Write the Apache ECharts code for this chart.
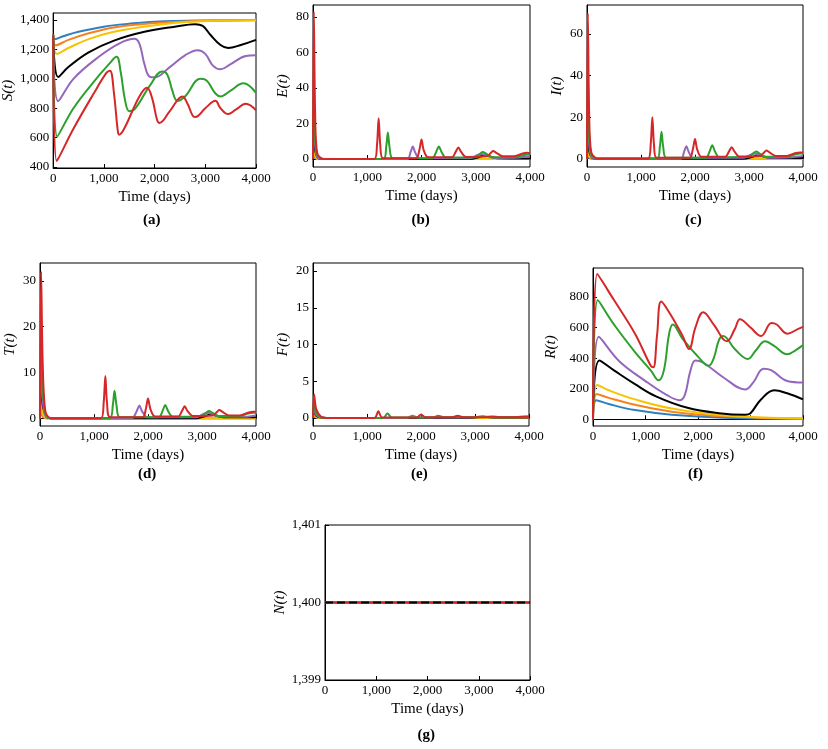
<!DOCTYPE html>
<html lang="en" style="height: 100%">
<head>
  <meta charset="utf-8">
</head>
<body style="height: 100%; margin: 0; background: #fff">
  <div id="container" style="width: 828px; height: 749px"></div>
  <script type="text/javascript" src="https://cdn.jsdelivr.net/npm/echarts@6/dist/echarts.min.js"></script>
  <script type="text/javascript">
    var colors = {
      blue: '#2f7fc1', orange: '#f5821f', yellow: '#f7c300', black: '#000000',
      purple: '#9467bd', green: '#2ca02c', red: '#d62728'
    };
    var order = ['blue', 'orange', 'yellow', 'black', 'purple', 'green', 'red'];
    var xTicks = [0, 1000, 2000, 3000, 4000];

    // S(t)
    var S = {
      blue: [[0,1300],[30,1270],[200,1290],[500,1320],[1000,1355],[1500,1375],[2000,1388],[3000,1397],[4000,1400]],
      orange: [[0,1300],[50,1228],[300,1265],[700,1310],[1200,1350],[2000,1380],[3000,1395],[4000,1399]],
      yellow: [[0,1300],[70,1170],[300,1210],[700,1270],[1200,1320],[2000,1365],[2800,1390],[4000,1398]],
      black: [[0,1300],[100,1012],[300,1080],[700,1180],[1200,1260],[1800,1320],[2400,1355],[2800,1372],[2950,1360],[3100,1300],[3300,1230],[3450,1210],[3700,1230],[4000,1265]],
      purple: [[0,1300],[100,848],[400,1000],[900,1150],[1300,1240],[1600,1272],[1700,1240],[1800,1100],[1900,1015],[2000,1010],[2300,1080],[2600,1160],[2850,1195],[3000,1170],[3150,1090],[3300,1065],[3500,1100],[3800,1155],[4000,1160]],
      green: [[0,1300],[80,608],[400,800],[800,980],[1100,1100],[1250,1150],[1330,1050],[1420,850],[1500,780],[1600,790],[1900,950],[2150,1050],[2250,1030],[2350,920],[2450,850],[2600,880],[2900,1000],[3000,995],[3200,900],[3300,880],[3500,920],[3750,970],[4000,905]],
      red: [[0,1300],[70,440],[400,660],[800,900],[1050,1040],[1120,1055],[1200,900],[1270,660],[1300,620],[1400,660],[1700,880],[1850,940],[1950,870],[2050,720],[2100,700],[2300,780],[2550,880],[2650,830],[2750,750],[2800,740],[3000,800],[3200,850],[3300,800],[3450,760],[3600,790],[3800,830],[4000,785]]
    };

    // E(t)
    var E = {
      blue: [[0,0],[5,3],[40,0.5],[100,0],[4000,0]],
      orange: [[0,0],[6,6],[40,1],[100,0],[4000,0]],
      yellow: [[0,0],[8,11],[40,2],[100,0],[4000,0]],
      black: [[0,0],[10,20],[40,5],[100,0.5],[200,0],[2900,0],[3050,1],[3150,2],[3250,1.5],[3400,0.4],[4000,0.3]],
      purple: [[0,0],[10,28],[40,8],[80,1],[200,0],[1740,0],[1800,4],[1840,7],[1880,4],[1960,0.5],[2900,0.5],[3000,1.8],[3100,2.8],[3200,2],[3350,0.6],[3800,0.8],[4000,1.5]],
      green: [[0,0],[12,40],[40,12],[80,2],[200,0],[1300,0],[1350,7],[1380,15],[1410,7],[1470,0.5],[2200,0.5],[2270,4],[2320,7],[2370,4],[2450,0.8],[3000,1],[3080,3],[3130,4],[3190,3],[3300,1],[3700,1],[3850,2],[3950,2.5],[4000,2.5]],
      red: [[0,0],[15,83],[40,25],[80,3],[200,0],[1130,0],[1180,8],[1210,23],[1240,8],[1290,0.5],[1900,0.5],[1960,5],[2000,11],[2040,5],[2120,1],[2560,1],[2630,4],[2680,6.5],[2730,4],[2820,1.2],[3200,1.5],[3280,3.5],[3320,4.5],[3380,3.5],[3500,1.5],[3700,1.5],[3850,3],[3950,3.5],[4000,3.3]]
    };

    // I(t)
    var I = {
      blue: [[0,0],[5,2],[40,0.4],[100,0],[4000,0]],
      orange: [[0,0],[6,4],[40,0.8],[100,0],[4000,0]],
      yellow: [[0,0],[8,8],[40,1.5],[100,0],[4000,0]],
      black: [[0,0],[10,18],[40,4],[100,0.4],[200,0],[2900,0],[3050,0.8],[3150,1.6],[3250,1.2],[3400,0.3],[4000,0.3]],
      purple: [[0,0],[10,25],[40,7],[80,1],[200,0],[1740,0],[1800,3.5],[1840,6],[1880,3.5],[1960,0.4],[2900,0.4],[3000,1.5],[3100,2.5],[3200,1.8],[3350,0.5],[3800,0.7],[4000,1.3]],
      green: [[0,0],[12,40],[40,11],[80,2],[200,0],[1300,0],[1350,6],[1380,13],[1410,6],[1470,0.4],[2200,0.4],[2270,3.5],[2320,6.5],[2370,3.5],[2450,0.7],[3000,0.9],[3080,2.6],[3130,3.5],[3190,2.6],[3300,0.9],[3700,0.9],[3850,2],[3950,2.5],[4000,2.5]],
      red: [[0,0],[15,70],[40,22],[80,3],[200,0],[1130,0],[1180,7],[1210,20],[1240,7],[1290,0.4],[1900,0.4],[1960,4.5],[2000,9.5],[2040,4.5],[2120,0.9],[2560,0.9],[2630,3.5],[2680,5.5],[2730,3.5],[2820,1],[3200,1.3],[3280,3],[3320,4],[3380,3],[3500,1.3],[3700,1.3],[3850,2.6],[3950,3],[4000,3]]
    };

    // T(t)
    var T = {
      blue: [[0,0],[8,2],[50,0.4],[120,0],[4000,0]],
      orange: [[0,0],[10,3],[50,0.6],[120,0],[4000,0]],
      yellow: [[0,0],[12,5],[50,1],[130,0],[4000,0]],
      black: [[0,0],[15,10],[50,3],[120,0.3],[200,0],[2900,0],[3050,0.4],[3150,0.8],[3250,0.6],[3400,0.2],[4000,0.2]],
      purple: [[0,0],[15,11],[50,4],[100,0.5],[200,0],[1700,0],[1790,1.5],[1840,2.8],[1890,1.5],[1990,0.2],[2900,0.2],[3000,0.8],[3100,1.2],[3200,0.9],[3350,0.3],[3800,0.3],[4000,0.6]],
      green: [[0,0],[18,20],[50,7],[100,1],[200,0],[1290,0],[1350,3],[1380,6],[1415,3],[1480,0.2],[2200,0.2],[2270,1.6],[2320,2.9],[2370,1.6],[2460,0.3],[3000,0.5],[3080,1.2],[3130,1.6],[3190,1.2],[3300,0.5],[3700,0.5],[3850,1],[3950,1.2],[4000,1.2]],
      red: [[0,0],[20,32],[50,12],[100,1.5],[200,0],[1130,0],[1180,3.5],[1210,9.2],[1240,3.5],[1300,0.2],[1900,0.2],[1960,2],[2000,4.3],[2045,2],[2130,0.4],[2560,0.4],[2630,1.6],[2680,2.6],[2730,1.6],[2830,0.5],[3200,0.6],[3280,1.4],[3320,1.8],[3380,1.4],[3500,0.6],[3700,0.6],[3850,1.2],[3950,1.4],[4000,1.4]]
    };

    // F(t)
    var F = {
      blue: [[0,0],[8,0.2],[60,0.05],[150,0],[4000,0]],
      orange: [[0,0],[10,0.3],[60,0.1],[150,0],[4000,0]],
      yellow: [[0,0],[12,0.5],[60,0.15],[150,0],[4000,0]],
      black: [[0,0],[15,1],[60,0.3],[150,0.05],[250,0],[2900,0],[3150,0.15],[3400,0.05],[4000,0.05]],
      purple: [[0,0],[15,1.2],[60,0.4],[150,0.05],[250,0],[1740,0],[1840,0.3],[1950,0.05],[2900,0.05],[3100,0.15],[3300,0.08],[4000,0.1]],
      green: [[0,0],[18,2],[60,0.7],[150,0.1],[250,0],[1300,0],[1380,0.6],[1460,0.05],[2220,0.05],[2320,0.3],[2420,0.08],[3000,0.1],[3130,0.2],[3300,0.1],[3700,0.1],[3950,0.15],[4000,0.15]],
      red: [[0,0],[20,3.2],[60,1.2],[150,0.15],[250,0],[1140,0],[1210,0.9],[1280,0.05],[1920,0.05],[2000,0.45],[2090,0.08],[2580,0.08],[2680,0.3],[2780,0.1],[3200,0.1],[3320,0.2],[3450,0.1],[3750,0.1],[3950,0.2],[4000,0.2]]
    };

    // R(t)
    var R = {
      blue: [[0,0],[60,125],[300,100],[800,60],[1500,30],[2500,10],[4000,2]],
      orange: [[0,0],[70,165],[300,140],[800,95],[1500,50],[2500,20],[4000,5]],
      yellow: [[0,0],[80,225],[300,190],[800,130],[1500,70],[2500,25],[4000,5]],
      black: [[0,0],[120,385],[400,320],[800,230],[1200,150],[1800,75],[2400,40],[2900,30],[3000,40],[3200,130],[3450,190],[3700,170],[4000,130]],
      purple: [[0,0],[110,540],[500,380],[1000,250],[1400,160],[1650,125],[1750,160],[1850,310],[1950,385],[2100,370],[2500,270],[2900,195],[3050,240],[3250,330],[3400,320],[3700,250],[4000,240]],
      green: [[0,0],[90,780],[400,620],[800,440],[1100,320],[1250,255],[1350,320],[1450,560],[1520,620],[1700,530],[2000,410],[2200,350],[2300,400],[2400,520],[2480,545],[2700,460],[2950,395],[3100,450],[3280,510],[3450,480],[3700,425],[3850,450],[4000,485]],
      red: [[0,0],[80,950],[400,780],[800,560],[1100,350],[1150,340],[1220,550],[1300,770],[1450,700],[1700,550],[1830,460],[1950,600],[2100,700],[2300,620],[2550,510],[2700,590],[2800,655],[3000,600],[3200,545],[3400,630],[3500,620],[3700,560],[3900,590],[4000,605]]
    };

    // N(t)
    var N = {
      blue: [[0,1400],[4000,1400]], orange: [[0,1400],[4000,1400]], yellow: [[0,1400],[4000,1400]],
      purple: [[0,1400],[4000,1400]], green: [[0,1400],[4000,1400]], red: [[0,1400],[4000,1400]],
      black: [[0,1400],[4000,1400]]
    };

    var panels = [
      { data: S, name: 'S(t)', label: '(a)', box: [50, 13, 206, 155], min: 393, max: 1448, ticks: [400, 600, 800, 1000, 1200, 1400], smooth: 0.4 },
      { data: E, name: 'E(t)', label: '(b)', box: [313, 5, 217, 162], min: -4.5, max: 86.8, ticks: [0, 20, 40, 60, 80], smooth: 0.3 },
      { data: I, name: 'I(t)', label: '(c)', box: [587, 5, 216, 162], min: -4, max: 74, ticks: [0, 20, 40, 60], smooth: 0.3 },
      { data: T, name: 'T(t)', label: '(d)', box: [40, 263, 216, 163], min: -1.7, max: 33.9, ticks: [0, 10, 20, 30], smooth: 0.3 },
      { data: F, name: 'F(t)', label: '(e)', box: [313, 263, 216, 163], min: -1.1, max: 21.1, ticks: [0, 5, 10, 15, 20], smooth: 0.3 },
      { data: R, name: 'R(t)', label: '(f)', box: [593, 268, 210, 158], min: -44, max: 990, ticks: [0, 200, 400, 600, 800], smooth: 0.4 },
      { data: N, name: 'N(t)', label: '(g)', box: [325, 525, 205, 155], min: 1399, max: 1401, ticks: [1399, 1400, 1401], smooth: false }
    ];
    var labelY = [222, 222, 222, 476, 476, 476, 737];

    var font = 'Liberation Serif';
    var grid = [], xAxis = [], yAxis = [], series = [], graphic = [];
    panels.forEach(function (p, i) {
      var b = p.box;
      grid.push({ left: b[0], top: b[1], width: b[2], height: b[3], show: true, borderColor: '#000', borderWidth: 1 });
      xAxis.push({
        type: 'value', gridIndex: i, min: 0, max: 4000,
        name: 'Time (days)', nameLocation: 'middle', nameGap: 22,
        nameTextStyle: { fontFamily: font, fontSize: 15, color: '#000' },
        axisLine: { lineStyle: { color: '#000' } },
        axisTick: { inside: true, length: 4, customValues: xTicks, lineStyle: { color: '#000' } },
        axisLabel: { customValues: xTicks, fontFamily: font, fontSize: 13, color: '#000', margin: 4 },
        splitLine: { show: false }
      });
      yAxis.push({
        type: 'value', gridIndex: i, min: p.min, max: p.max,
        name: p.name, nameLocation: 'middle', nameGap: i === 6 ? 34 : (p.max > 100 ? 34 : 22),
        nameTextStyle: { fontFamily: font, fontSize: 15, fontStyle: 'italic', color: '#000' },
        axisLine: { lineStyle: { color: '#000' } },
        axisTick: { inside: true, length: 4, customValues: p.ticks, lineStyle: { color: '#000' } },
        axisLabel: { customValues: p.ticks, fontFamily: font, fontSize: 13, color: '#000', margin: 4 },
        splitLine: { show: false }
      });
      order.forEach(function (c) {
        var isN = i === 6;
        series.push({
          type: 'line', xAxisIndex: i, yAxisIndex: i, data: p.data[c],
          showSymbol: false, smooth: p.smooth, silent: true,
          lineStyle: {
            color: colors[c], width: 2,
            type: isN && c === 'black' ? 'dashed' : 'solid'
          },
          z: isN && c === 'black' ? 5 : 2
        });
      });
      graphic.push({
        type: 'text', left: b[0] + b[2] / 2 - 10, top: labelY[i] - 9,
        style: { text: p.label, font: 'bold 15px "Liberation Serif"', fill: '#000' }
      });
    });

    var myChart = echarts.init(document.getElementById('container'));
    myChart.setOption({ animation: false, grid: grid, xAxis: xAxis, yAxis: yAxis, series: series, graphic: graphic });
  </script>
</body>
</html>
